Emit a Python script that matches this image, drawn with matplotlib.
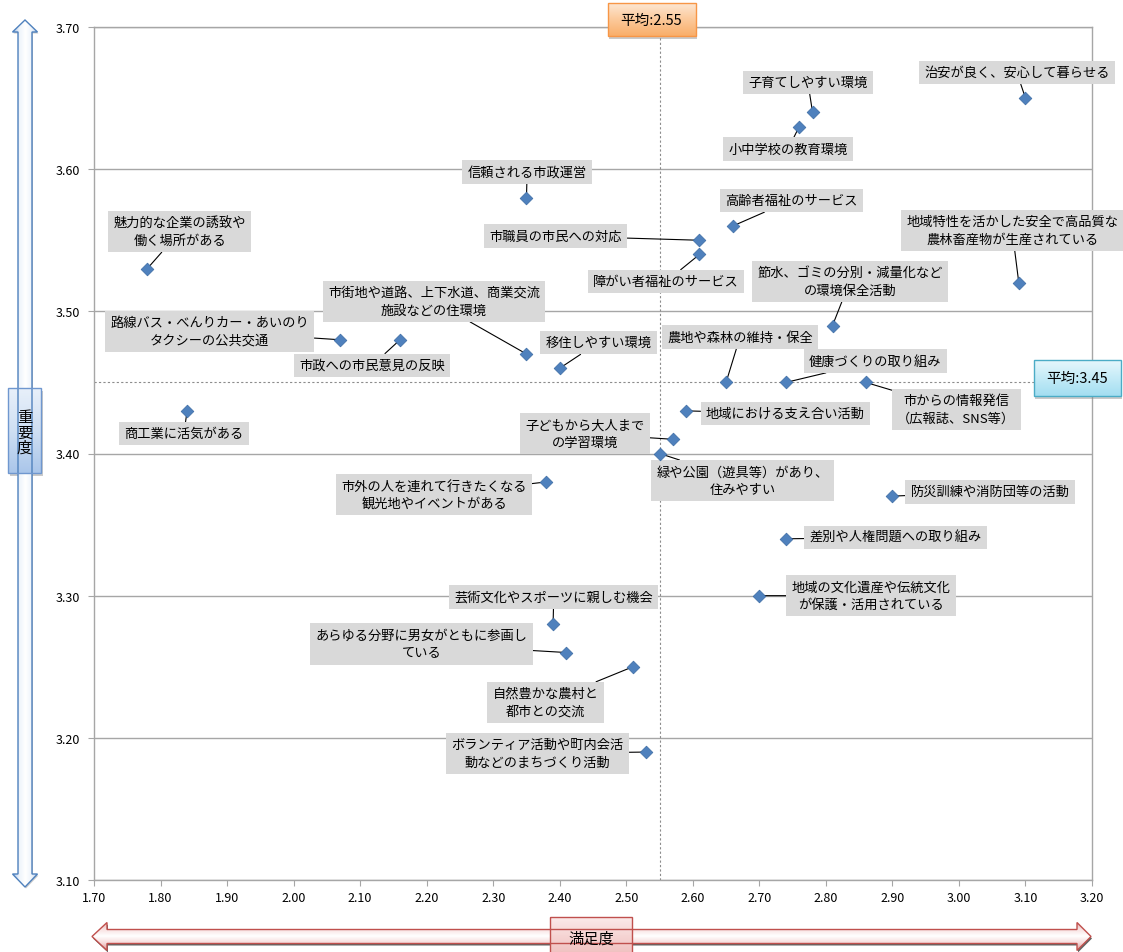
import numpy as np
import matplotlib
matplotlib.use('Agg')
import matplotlib.pyplot as plt
from matplotlib.patches import Polygon
from matplotlib.colors import to_rgb

plt.rcParams['font.family'] = ['Noto Sans CJK JP', 'DejaVu Sans']

# 各項目の満足度・重要度
items = [
    '治安が良く、安心して暮らせる',
    '子育てしやすい環境',
    '小中学校の教育環境',
    '信頼される市政運営',
    '高齢者福祉のサービス',
    '市職員の市民への対応',
    '障がい者福祉のサービス',
    '地域特性を活かした安全で高品質な\n農林畜産物が生産されている',
    '魅力的な企業の誘致や\n働く場所がある',
    '路線バス・べんりカー・あいのり\nタクシーの公共交通',
    '市政への市民意見の反映',
    '市街地や道路、上下水道、商業交流\n施設などの住環境',
    '移住しやすい環境',
    '節水、ゴミの分別・減量化など\nの環境保全活動',
    '農地や森林の維持・保全',
    '健康づくりの取り組み',
    '市からの情報発信\n（広報誌、SNS等）',
    '地域における支え合い活動',
    '子どもから大人まで\nの学習環境',
    '緑や公園（遊具等）があり、\n住みやすい',
    '市外の人を連れて行きたくなる\n観光地やイベントがある',
    '商工業に活気がある',
    '防災訓練や消防団等の活動',
    '差別や人権問題への取り組み',
    '地域の文化遺産や伝統文化\nが保護・活用されている',
    '芸術文化やスポーツに親しむ機会',
    'あらゆる分野に男女がともに参画し\nている',
    '自然豊かな農村と\n都市との交流',
    'ボランティア活動や町内会活\n動などのまちづくり活動',
]
satisfaction = [3.10, 2.78, 2.76, 2.35, 2.66, 2.61, 2.61, 3.09, 1.78, 2.07,
                2.16, 2.35, 2.40, 2.81, 2.65, 2.74, 2.86, 2.59, 2.57, 2.55,
                2.38, 1.84, 2.90, 2.74, 2.70, 2.39, 2.41, 2.51, 2.53]
importance = [3.65, 3.64, 3.63, 3.58, 3.56, 3.55, 3.54, 3.52, 3.53, 3.48,
              3.48, 3.47, 3.46, 3.49, 3.45, 3.45, 3.45, 3.43, 3.41, 3.40,
              3.38, 3.43, 3.37, 3.34, 3.30, 3.28, 3.26, 3.25, 3.19]

mean_sat = 2.55
mean_imp = 3.45

# ラベルの置き場所（データ座標）
label_x = [3.087, 2.773, 2.743, 2.351, 2.748, 2.394, 2.560, 3.080, 1.829, 1.874,
           2.118, 2.211, 2.458, 2.836, 2.671, 2.874, 2.996, 2.739, 2.438, 2.675,
           2.211, 1.835, 3.047, 2.905, 2.868, 2.391, 2.192, 2.379, 2.367]
label_y = [3.668, 3.661, 3.614, 3.598, 3.578, 3.553, 3.521, 3.557, 3.556, 3.486,
           3.462, 3.507, 3.478, 3.521, 3.482, 3.465, 3.431, 3.428, 3.414, 3.381,
           3.371, 3.414, 3.373, 3.341, 3.300, 3.299, 3.266, 3.225, 3.189]

x_ticks = np.round(np.arange(1.70, 3.201, 0.10), 2)
y_ticks = np.round(np.arange(3.10, 3.701, 0.10), 2)

W, H = 1123, 953
fig = plt.figure(figsize=(W / 100, H / 100), dpi=100)
ax = fig.add_axes([94 / W, 1 - 881 / H, (1092 - 94) / W, (881 - 28) / H])

ax.set_xlim(1.70, 3.20)
ax.set_ylim(3.10, 3.70)
ax.set_xticks(x_ticks)
ax.set_yticks(y_ticks)
ax.set_xticklabels([f'{v:.2f}' for v in x_ticks])
ax.set_yticklabels([f'{v:.2f}' for v in y_ticks])
ax.tick_params(direction='out', length=4, width=0.8, color='#a6a6a6',
               labelsize=9, labelcolor='black')
ax.tick_params(axis='x', pad=4)
ax.tick_params(axis='y', pad=6)
for s in ax.spines.values():
    s.set_color('#a6a6a6')
    s.set_linewidth(1.0)
ax.yaxis.grid(True, color='#a6a6a6', lw=1.0, zorder=0)
ax.set_axisbelow(True)

# 平均線
ax.axvline(mean_sat, color='#8c8c8c', lw=0.8, ls=(0, (2, 2)), zorder=2)
ax.axhline(mean_imp, color='#8c8c8c', lw=0.8, ls=(0, (2, 2)), zorder=2)

ax.scatter(satisfaction, importance, marker='D', s=42, c='#4f81bd',
           edgecolors='#3b6aa3', linewidths=0.5, zorder=6)

for name, sx, sy, tx, ty in zip(items, satisfaction, importance, label_x, label_y):
    ax.annotate(name, xy=(sx, sy), xytext=(tx, ty), ha='center', va='center',
                fontsize=9.5, linespacing=1.45, zorder=4,
                bbox=dict(boxstyle='square,pad=0.4', fc='#d9d9d9', ec='none'),
                arrowprops=dict(arrowstyle='-', color='black', lw=0.8,
                                shrinkA=0, shrinkB=3))

# 外枠の矢印・見出し（ピクセル座標のオーバーレイ）
ov = fig.add_axes([0, 0, 1, 1])
ov.patch.set_alpha(0)
ov.axis('off')


def gradient_fill(patch, x0, y0, x1, y1, stops, horizontal=False, z=10):
    n = 64
    cols = np.array([to_rgb(c) for c in stops])
    t = np.linspace(0, 1, n)
    pos = np.linspace(0, 1, len(stops))
    arr = np.stack([np.interp(t, pos, cols[:, k]) for k in range(3)], axis=-1)
    img = arr[None, :, :] if horizontal else arr[:, None, :]
    patch.set_zorder(z + 1)
    ov.add_patch(patch)
    im = ov.imshow(img, extent=(x0, x1, y1, y0), origin='upper', aspect='auto',
                   interpolation='bilinear', zorder=z)
    im.set_clip_path(patch)


def shadow(pts, dx=1.5, dy=2.0, color='#7f7f7f', alpha=0.6, z=9):
    sp = Polygon([(x + dx, y + dy) for x, y in pts], closed=True,
                 fc=color, ec='none', alpha=alpha, zorder=z)
    ov.add_patch(sp)


def box_pts(x0, y0, x1, y1):
    return [(x0, y0), (x1, y0), (x1, y1), (x0, y1)]


# 縦の矢印（重要度）
cx, sw, hw = 25, 7, 12.5
v_pts = [(cx, 21), (cx + hw, 33), (cx + sw, 33), (cx + sw, 875), (cx + hw, 875),
         (cx, 888), (cx - hw, 875), (cx - sw, 875), (cx - sw, 33), (cx - hw, 33)]
shadow(v_pts, 1.0, 1.5, '#9a9a9a', 0.5)
gradient_fill(Polygon(v_pts, closed=True, fc='none', ec='#4f81bd', lw=1.0),
              cx - hw, 21, cx + hw, 888,
              ['#a9c4e8', '#eef4fb', '#ffffff', '#eef4fb', '#b9cfec'], horizontal=True)

# 横の矢印（満足度）
cy, sh, hh = 937.5, 7, 14
h_pts = [(92, cy), (107, cy - hh), (107, cy - sh), (1077, cy - sh), (1077, cy - hh),
         (1091, cy), (1077, cy + hh), (1077, cy + sh), (107, cy + sh), (107, cy + hh)]
shadow(h_pts, 1.0, 2.0, '#202020', 0.7)
gradient_fill(Polygon(h_pts, closed=True, fc='none', ec='#c0504d', lw=1.0),
              92, cy - hh, 1091, cy + hh,
              ['#e6b3b2', '#f8e0e0', '#ffffff', '#f6dada', '#dc9c9a'])

# 重要度ラベル
p = box_pts(8, 389, 41, 474)
shadow(p, 1.5, 2.5, '#8a8a8a', 0.45)
gradient_fill(Polygon(p, closed=True, fc='none', ec='#6f97cf', lw=1.0),
              8, 389, 41, 474, ['#e8f0fa', '#d0e0f3', '#aac6ea'])
for i, ch in enumerate('重要度'):
    ov.text(24.5, 418 + 15 * i, ch, ha='center', va='center', fontsize=11, zorder=15)

# 満足度ラベル
p = box_pts(550, 918, 632, 960)
gradient_fill(Polygon(p, closed=True, fc='none', ec='#c0504d', lw=1.0),
              550, 918, 632, 960, ['#fbeaea', '#f5d2d1', '#eebbba'])
ov.text(591, 939, '満足度', ha='center', va='center', fontsize=11, zorder=15)

# 平均値ラベル（平均線の位置から配置）
mx, my = ax.transData.transform((mean_sat, mean_imp))
mx_px, my_px = mx, H - my

bx0, bx1 = mx_px - 52, mx_px + 36
p = box_pts(bx0, 4, bx1, 37)
shadow(p, 1.0, 2.5, '#8a8a8a', 0.45)
gradient_fill(Polygon(p, closed=True, fc='none', ec='#f79646', lw=1.0),
              bx0, 4, bx1, 37, ['#fde7d3', '#fcc99a', '#f9ae6a'])
ov.text((bx0 + bx1) / 2, 20.5, f'平均:{mean_sat:.2f}', ha='center', va='center',
        fontsize=10.5, zorder=15)

by0, by1 = my_px - 22, my_px + 14
p = box_pts(1034, by0, 1121, by1)
shadow(p, 1.0, 2.5, '#8a8a8a', 0.45)
gradient_fill(Polygon(p, closed=True, fc='none', ec='#4bacc6', lw=1.0),
              1034, by0, 1121, by1, ['#e6f7fc', '#c4ebf7', '#a3def1'])
ov.text(1077.5, (by0 + by1) / 2, f'平均:{mean_imp:.2f}', ha='center', va='center',
        fontsize=10.5, zorder=15)

ov.set_xlim(0, W)
ov.set_ylim(H, 0)

fig.savefig('out.png', dpi=100)
